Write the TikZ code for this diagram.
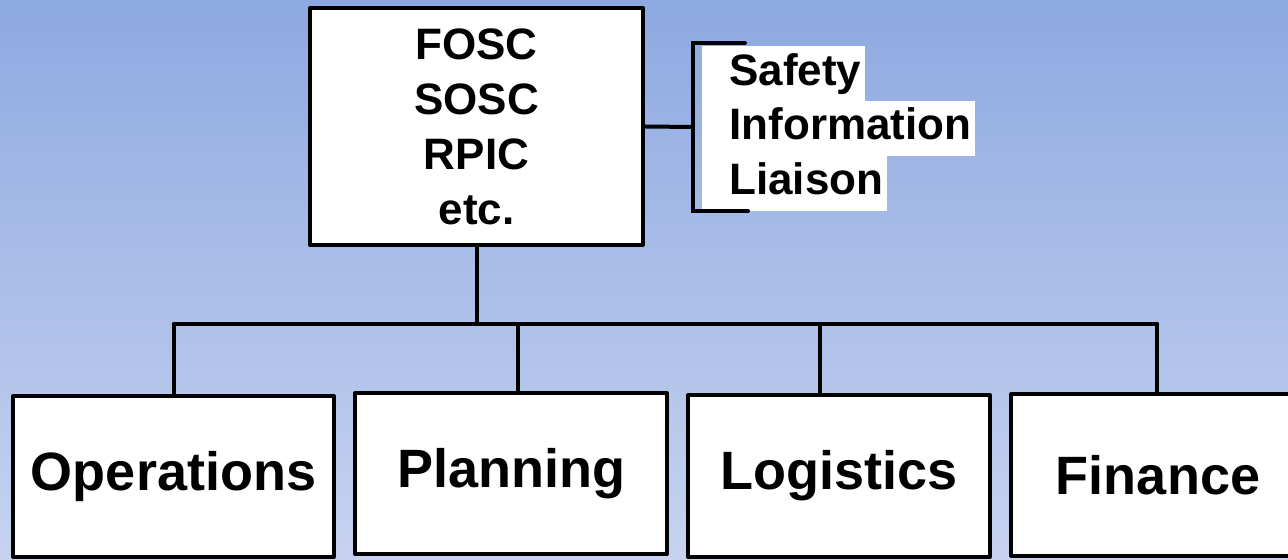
\documentclass[tikz,border=0pt]{standalone}
\usepackage{fontspec}
\setmainfont{Liberation Sans}
\usetikzlibrary{positioning}
\definecolor{skytop}{RGB}{142,169,225}
\definecolor{skybot}{RGB}{199,211,240}
\newcommand{\staffitem}[1]{\hspace*{13.5pt}#1\hspace*{2pt}}

\begin{document}
\begin{tikzpicture}[x=0.5pt,y=-0.5pt,
    unit/.style={draw, line width=2pt, line join=round, fill=white, align=center,
      font=\bfseries\fontsize{27}{32}\selectfont},
    link/.style={line width=2pt, line cap=round},
    staff/.style={fill=white, inner sep=0pt, text height=19.5pt, text depth=8pt,
      font=\bfseries\fontsize{22}{27.5}\selectfont}]
  \useasboundingbox (0,0) rectangle (1288,560);
  \shade[top color=skytop, bottom color=skybot] (0,0) rectangle (1288,560);

  \node (osc) [unit, minimum width=166.5pt, minimum height=118.5pt,
    font=\bfseries\fontsize{22}{27.5}\selectfont] at (476.5,126.5)
    {FOSC\\SOSC\\RPIC\\etc.};

  \node (safety) [staff, anchor=north west] at (702,46) {\staffitem{Safety}};
  \node (info) [staff, below = -0.6pt of safety.south west, anchor=north west] {\staffitem{Information}};
  \node (liaison) [staff, below = -0.6pt of info.south west, anchor=north west] {\staffitem{Liaison}};

  \node (ops) [unit, minimum width=160.5pt, minimum height=80.5pt] at (173.5,476.5) {Operations};
  \node (plan) [unit, minimum width=156pt, minimum height=80.5pt] at (511,473.5) {Planning};
  \node (logi) [unit, minimum width=151pt, minimum height=81pt] at (839,476) {Logistics};
  \node (fin) [unit, minimum width=147pt, minimum height=80.5pt] at (1158,475) {Finance};

  % staff bracket
  \coordinate (brk) at (693,127);
  \coordinate (brkN) at (693,43);
  \coordinate (brkS) at (693,211);
  \draw[link] (osc.east) -- (brk);
  \draw[link] ([xshift=26pt]brkN) -- (brkN) -- (brkS) -- ([xshift=27.5pt]brkS);

  % sections
  \coordinate (hub) at (476.5,324);
  \draw[link] (osc.south) -- (hub);
  \foreach \x/\n in {174/ops, 518/plan, 820/logi, 1157/fin}
    \coordinate (d\n) at (\x,324);
  \draw[link] (dops) -- (dfin);
  \foreach \n in {ops, plan, logi, fin}
    \draw[link] (d\n) -- (d\n |- \n.north);

\end{tikzpicture}
\end{document}
